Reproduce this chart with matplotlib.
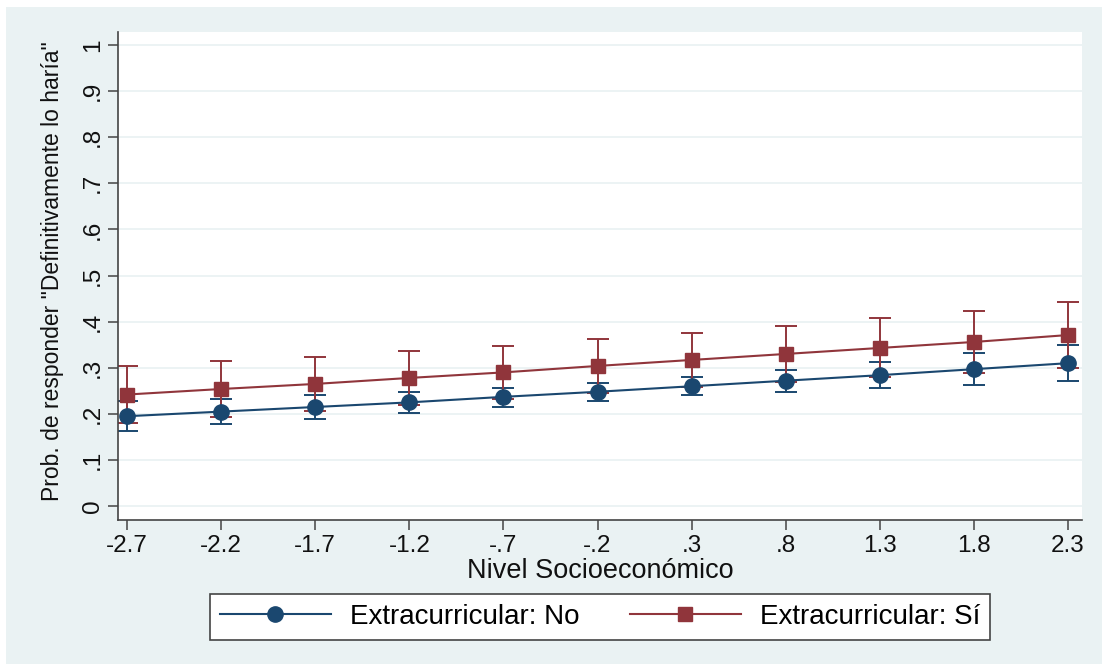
import matplotlib.pyplot as plt
from matplotlib.patches import Rectangle

plt.rcParams['font.family'] = ['Liberation Sans', 'DejaVu Sans']

nse = [-2.7, -2.2, -1.7, -1.2, -0.7, -0.2, 0.3, 0.8, 1.3, 1.8, 2.3]
tick_labels = ["-2.7", "-2.2", "-1.7", "-1.2", "-.7", "-.2", ".3", ".8", "1.3", "1.8", "2.3"]

no_mean = [0.195, 0.205, 0.215, 0.225, 0.237, 0.248, 0.260, 0.272, 0.284, 0.297, 0.310]
no_low = [0.163, 0.178, 0.190, 0.202, 0.216, 0.229, 0.240, 0.248, 0.256, 0.262, 0.271]
no_high = [0.227, 0.232, 0.240, 0.248, 0.257, 0.267, 0.280, 0.296, 0.312, 0.331, 0.349]

si_mean = [0.242, 0.254, 0.265, 0.278, 0.290, 0.304, 0.317, 0.330, 0.343, 0.356, 0.371]
si_low = [0.180, 0.193, 0.207, 0.220, 0.232, 0.246, 0.258, 0.269, 0.279, 0.289, 0.299]
si_high = [0.304, 0.315, 0.324, 0.336, 0.348, 0.362, 0.376, 0.391, 0.407, 0.424, 0.443]

blue = "#1a476f"
red = "#90353b"
bg = "#eaf2f3"

fig = plt.figure(figsize=(11.02, 6.64), dpi=100)
fig.patch.set_facecolor("white")
fig.patches.append(Rectangle((6 / 1102, 0), 1, 1 - 7 / 664,
                             transform=fig.transFigure, facecolor=bg,
                             edgecolor="none", zorder=-10))

ax = fig.add_axes([118 / 1102, 1 - 520 / 664, 964 / 1102, 488 / 664])
ax.set_facecolor("white")

# confidence intervals first, then the lines with markers
for mean, low, high, col in [(no_mean, no_low, no_high, blue),
                             (si_mean, si_low, si_high, red)]:
    err = [[m - l for m, l in zip(mean, low)], [h - m for m, h in zip(mean, high)]]
    ax.errorbar(nse, mean, yerr=err, fmt="none", ecolor=col, elinewidth=1.4,
                capsize=8, capthick=1.4, zorder=2)

ax.plot(nse, no_mean, color=blue, lw=1.5, marker="o", ms=11, zorder=3,
        label="Extracurricular: No")
ax.plot(nse, si_mean, color=red, lw=1.5, marker="s", ms=10.5, zorder=4,
        label="Extracurricular: Sí")

ax.set_xlim(-2.748, 2.374)
ax.set_ylim(-0.030, 1.028)
yt = [i / 10 for i in range(11)]
ax.set_yticks(yt)
ax.set_yticklabels(["0", ".1", ".2", ".3", ".4", ".5", ".6", ".7", ".8", ".9", "1"],
                   rotation=90, va="center")
ax.set_xticks(nse)
ax.set_xticklabels(tick_labels)
ax.grid(axis="y", color=bg, lw=1.3)
ax.set_axisbelow(True)

for s in ["top", "right"]:
    ax.spines[s].set_visible(False)
for s in ["left", "bottom"]:
    ax.spines[s].set_color("#444444")
    ax.spines[s].set_linewidth(1.2)
ax.tick_params(axis="both", length=7, width=1.1, color="#444444",
               labelsize=17.5, labelcolor="#111111")
ax.tick_params(axis="x", pad=4)
ax.tick_params(axis="y", pad=3)

ax.set_xlabel("Nivel Socioeconómico", fontsize=19.5, color="#111111")
ax.xaxis.set_label_coords(0.5, -0.078)
ax.set_ylabel('Prob. de responder "Definitivamente lo haría"', fontsize=16.5,
              color="#111111")
ax.yaxis.set_label_coords(-0.056, 0.51)

leg = fig.legend(loc="center", bbox_to_anchor=(600 / 1102, 1 - 617 / 664),
                 ncol=2, fontsize=20, frameon=True, fancybox=False,
                 framealpha=1, facecolor="white",
                 handlelength=4, handletextpad=0.7, columnspacing=1.8,
                 borderpad=0.35, borderaxespad=0, edgecolor="#444444")
leg.get_frame().set_linewidth(1.2)

fig.savefig("out.png", dpi=100)
